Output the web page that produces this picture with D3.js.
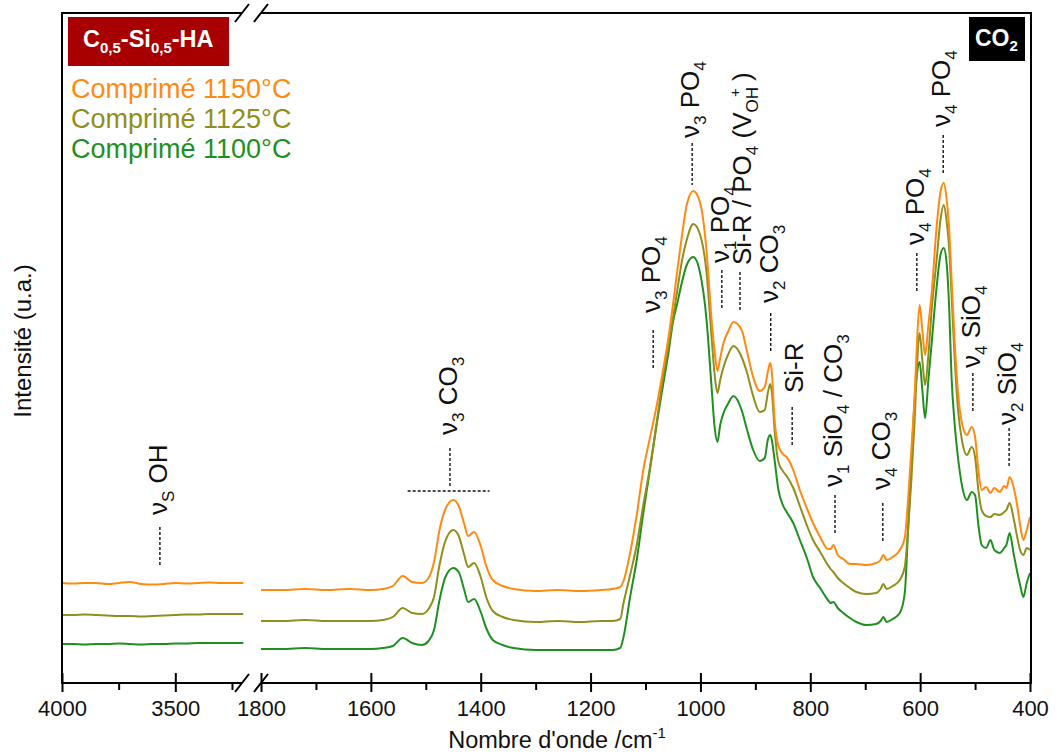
<!DOCTYPE html>
<html><head><meta charset="utf-8">
<script src="https://cdn.jsdelivr.net/npm/d3@7"></script>
<style>
body{margin:0;background:#fff}
svg{display:block}
text{font-family:"Liberation Sans",Arial,sans-serif}
</style>
</head><body>
<svg id="c" width="1055" height="754"></svg>
<script>
// ---------------- DATA ----------------
const seriesNames = ["Comprimé 1150°C", "Comprimé 1125°C", "Comprimé 1100°C"];

// high wavenumber segment (4000 - 3200 cm-1)
const wnHigh = [4000,3950,3900,3850,3800,3750,3700,3650,3600,3550,3500,3450,3400,3350,3300,3250,3200];
const i1150High = [100,99.5,100,100,99,100,101,99,98.5,99,100,99.5,100,100.5,100,100,100];
const i1125High = [68,68,68.5,68,67.5,67,67,66.5,67,67.5,68,68.5,68.5,69,69,69,69];
const i1100High = [39,39,38.5,39,39,39.5,39,38.5,39,39,39.5,39.5,40,40,40,40,40];

// low wavenumber segment (1800 - 400 cm-1)
const wnLow = [1800,1760,1720,1680,1640,1600,1578,1560,1542,1525,
  1507,1495,1485,1475,1465,1450,1440,1430,1423,1412,
  1400,1390,1378,1360,1340,1300,1260,1220,1180,1160,
  1146,1140,1128,1116,1104,1092,1079,1068,1058,1050,
  1042,1034,1025,1013,1001,989,980,974,969,964,
  958,950,940,925,915,904,892,883,877,873,
  870,865,858,850,843,831,819,805,795,782,
  768,763,758,750,740,728,716,698,680,672,
  667,661,650,637,628,622,616,610,606,601,
  596,591,585,579,570,563,557,552,547,543,
  537,531,524,515,506,500,494,488,480,472,
  465,455,447,443,437,430,424,418,412,406,
  400];
const i1150Low = [93,93,94,93,94,93,94,97,107,101,
  100,105,121,153,173,183,177,159,147,151,
  137,117,103,97,94,92,93,92,93,94,
  96,102,130,168,213,245,279,313,346,378,
  413,446,478,492,481,433,365,331,312,325,
  340,351,361,353,331,306,292,296,312,320,
  311,263,237,229,226,213,193,173,160,146,
  134,134,138,128,124,119,119,118,120,123,
  128,123,126,133,145,183,233,288,338,378,
  353,328,358,390,456,491,500,485,453,406,
  340,290,260,248,256,246,213,193,196,190,
  195,191,197,195,206,196,180,158,143,153,
  166];
const i1125Low = [62,62,63,62,62,62,63,66,75,70,
  69,74,86,118,141,153,147,128,116,120,
  106,86,72,66,63,61,62,61,62,62,
  64,80,108,138,178,215,263,306,338,365,
  393,421,443,459,449,411,348,308,290,303,
  316,328,337,326,310,287,271,273,291,299,
  291,253,221,212,207,195,177,156,143,131,
  118,114,111,105,100,95,91,89,90,94,
  99,94,97,103,116,153,203,263,313,350,
  323,298,328,373,423,463,478,463,433,390,
  323,273,243,228,236,226,193,173,167,166,
  169,168,171,173,180,165,148,133,128,135,
  133];
const i1100Low = [34,34,35,34,34,34,35,37,45,40,
  38,42,53,83,105,115,111,93,81,84,
  71,55,43,38,35,33,33,33,33,33,
  35,46,86,123,170,213,261,298,331,361,
  380,400,418,426,411,364,298,255,241,258,
  270,279,287,273,253,233,222,225,244,248,
  243,223,193,178,171,160,143,123,106,95,
  83,80,81,75,70,65,61,58,59,62,
  66,61,64,70,90,153,220,283,308,321,
  293,265,303,340,396,428,435,421,373,308,
  258,225,198,183,191,188,158,138,135,143,
  133,130,135,138,150,130,113,98,86,100,
  110];

const majorTicks = [4000,3500,1800,1600,1400,1200,1000,800,600,400];
const minorTicks = [3750,3250,1700,1500,1300,1100,900,700,500];

// band assignments: wavenumber, label parts, dash top/bottom & text start (intensity units)
const bands = [
  {wn:3568, parts:[["ν"],["S","sub"],[" OH"]], dTop:156, dBot:116, tStart:168},
  {wn:1456, parts:[["ν"],["3","sub"],[" CO"],["3","sub"]], dTop:235, dBot:195, tStart:248},
  {wn:1086, parts:[["ν"],["3","sub"],[" PO"],["4","sub"]], dTop:353, dBot:315, tStart:370},
  {wn:1015, parts:[["ν"],["3","sub"],[" PO"],["4","sub"]], dTop:540, dBot:498, tStart:545},
  {wn:961,  parts:[["ν"],["1","sub"],[" PO"],["4","sub"]], dTop:413, dBot:373, tStart:420},
  {wn:928,  parts:[["Si-R / PO"],["4","sub"],[" (V"],["OH","sub"],["+","sup"],[" )"]], dTop:411, dBot:371, tStart:418},
  {wn:872,  parts:[["ν"],["2","sub"],[" CO"],["3","sub"]], dTop:370, dBot:331, tStart:380},
  {wn:833,  parts:[["Si-R"]], dTop:276, dBot:238, tStart:290},
  {wn:755,  parts:[["ν"],["1","sub"],[" SiO"],["4","sub"],[" / CO"],["3","sub"]], dTop:188, dBot:148, tStart:196},
  {wn:668,  parts:[["ν"],["4","sub"],[" CO"],["3","sub"]], dTop:180, dBot:140, tStart:193},
  {wn:606,  parts:[["ν"],["4","sub"],[" PO"],["4","sub"]], dTop:430, dBot:390, tStart:438},
  {wn:558,  parts:[["ν"],["4","sub"],[" PO"],["4","sub"]], dTop:548, dBot:508, tStart:556},
  {wn:504,  parts:[["ν"],["4","sub"],[" SiO"],["4","sub"]], dTop:310, dBot:271, tStart:315},
  {wn:438,  parts:[["ν"],["2","sub"],[" SiO"],["4","sub"]], dTop:255, dBot:216, tStart:258}
];
const co3Bracket = {wn1:1533, wn2:1384, level:192};

// ---------------- STYLE / LAYOUT ----------------
const colors = ["#ff8a12", "#8f8f1d", "#1f901f"];
const L = 62, R = 1031, T = 13, B = 683;
const brk1 = 242, brk2 = 261;

const svg = d3.select("#c");
const x = d3.scaleLinear().domain([4000, 3200, 1800, 400]).range([L, 243.3, brk2, 1030]);
const y = d3.scaleLinear().domain([0, 670]).range([B, T]);

const line = d3.line().x(d => x(d[0])).y(d => y(d[1])).curve(d3.curveMonotoneX);

const highSets = [i1150High, i1125High, i1100High];
const lowSets = [i1150Low, i1125Low, i1100Low];
[2,1,0].forEach(k => {
  svg.append("path").datum(wnHigh.map((w,i)=>[w, highSets[k][i]]))
    .attr("d", line).attr("fill","none").attr("stroke",colors[k]).attr("stroke-width",2);
  svg.append("path").datum(wnLow.map((w,i)=>[w, lowSets[k][i]]))
    .attr("d", line).attr("fill","none").attr("stroke",colors[k]).attr("stroke-width",2)
    .attr("stroke-linejoin","round");
});

// frame
const fr = svg.append("g").attr("stroke","#000").attr("stroke-width",2).attr("fill","none");
fr.append("path").attr("d",`M${brk1},${T}H${L}V${B}H${brk1}`);
fr.append("path").attr("d",`M${brk2},${T}H${R}V${B}H${brk2}`);
[brk1, brk2].forEach(bx => {
  [T, B].forEach(by => {
    fr.append("line").attr("x1",bx-7).attr("y1",by+9).attr("x2",bx+7).attr("y2",by-9);
  });
});

// axes
const ax = svg.append("g").attr("transform",`translate(0,${B})`)
  .call(d3.axisBottom(x).tickValues(majorTicks).tickFormat(d3.format("d")).tickSize(9).tickPadding(8));
ax.select(".domain").remove();
ax.selectAll(".tick line").attr("y1",-10).attr("stroke","#000").attr("stroke-width",2);
ax.selectAll(".tick text").attr("font-size",22).attr("fill","#111").style("font-family",'"Liberation Sans",Arial,sans-serif');
const axm = svg.append("g").attr("transform",`translate(0,${B})`)
  .call(d3.axisBottom(x).tickValues(minorTicks).tickFormat("").tickSize(7));
axm.select(".domain").remove();
axm.selectAll(".tick line").attr("stroke","#000").attr("stroke-width",2);

// axis titles
const xt = svg.append("text").attr("x", 557).attr("y", 748).attr("text-anchor","middle")
  .attr("font-size",23.5).attr("fill","#111");
xt.append("tspan").text("Nombre d'onde /cm");
xt.append("tspan").text("-1").attr("font-size",15).attr("dy",-10);

svg.append("text").attr("transform",`translate(31,341) rotate(-90)`).attr("text-anchor","middle")
  .attr("font-size",24).attr("fill","#111").text("Intensité (u.a.)");

// band labels
function addParts(t, parts, fs, subFs){
  let shift = 0;
  parts.forEach(p => {
    const ts = t.append("tspan").text(p[0]);
    let target = 0;
    if (p[1] === "sub") { ts.attr("font-size", subFs); target = 7; }
    else if (p[1] === "sup") { ts.attr("font-size", subFs - 2); target = -11; ts.attr("dx", -10); }
    else ts.attr("font-size", fs);
    ts.attr("dy", target - shift);
    shift = target;
  });
}
const ann = svg.append("g");
bands.forEach(b => {
  const bx = x(b.wn);
  ann.append("line").attr("x1",bx).attr("x2",bx).attr("y1",y(b.dTop)).attr("y2",y(b.dBot))
    .attr("stroke","#111").attr("stroke-width",1.4).attr("stroke-dasharray","3,2");
  const off = b.parts[0][0] === "ν" ? 7 : 11;
  const t = ann.append("text").attr("transform",`translate(${bx+off},${y(b.tStart)}) rotate(-90)`)
    .attr("fill","#111");
  addParts(t, b.parts, 26, 17);
});
ann.append("line").attr("x1",x(co3Bracket.wn1)).attr("x2",x(co3Bracket.wn2))
  .attr("y1",y(co3Bracket.level)).attr("y2",y(co3Bracket.level))
  .attr("stroke","#111").attr("stroke-width",1.4).attr("stroke-dasharray","3,2");

// sample title box
svg.append("rect").attr("x",68).attr("y",17).attr("width",161).attr("height",49).attr("fill","#a80000");
const st = svg.append("text").attr("x",83).attr("y",47).attr("fill","#fff").attr("font-weight","bold");
[["C",0],["0,5",1],["-Si",0],["0,5",1],["-HA",0]].forEach((p,i,arr) => {
  const prev = i === 0 ? 0 : arr[i-1][1];
  st.append("tspan").text(p[0]).attr("font-size", p[1] ? 15 : 23.5).attr("dy", (p[1]-prev)*6);
});

// CO2 box
svg.append("rect").attr("x",969).attr("y",17).attr("width",56).attr("height",44).attr("fill","#000");
const ct = svg.append("text").attr("x",975).attr("y",46).attr("fill","#fff").attr("font-weight","bold");
ct.append("tspan").text("CO").attr("font-size",23);
ct.append("tspan").text("2").attr("font-size",15).attr("dy",5);

// legend
seriesNames.forEach((n,i) => {
  svg.append("text").attr("x",71).attr("y",98 + i*30).attr("font-size",27)
    .attr("fill",colors[i]).text(n);
});
</script>
</body></html>
